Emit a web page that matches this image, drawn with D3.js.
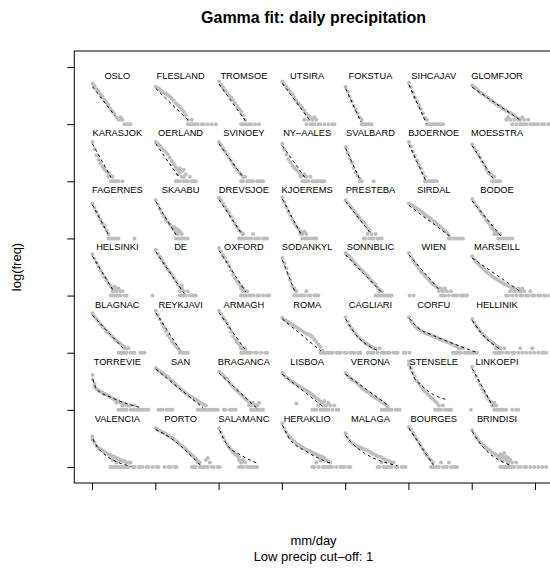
<!DOCTYPE html>
<html>
<head>
<meta charset="utf-8">
<script src="https://cdn.jsdelivr.net/npm/d3@7"></script>
<style>
  body { margin: 0; background: #fff; }
  text { font-family: "Liberation Sans", Arial, Helvetica, sans-serif; }
</style>
</head>
<body>
<svg id="chart" width="550" height="571"></svg>
<script>
// Stations, laid out row by row in a 7 x 7 grid of small panels
const stations = [
  "OSLO","FLESLAND","TROMSOE","UTSIRA","FOKSTUA","SIHCAJAV","GLOMFJOR",
  "KARASJOK","OERLAND","SVINOEY","NY\u2013AALES","SVALBARD","BJOERNOE","MOESSTRA",
  "FAGERNES","SKAABU","DREVSJOE","KJOEREMS","PRESTEBA","SIRDAL","BODOE",
  "HELSINKI","DE","OXFORD","SODANKYL","SONNBLIC","WIEN","MARSEILL",
  "BLAGNAC","REYKJAVI","ARMAGH","ROMA","CAGLIARI","CORFU","HELLINIK",
  "TORREVIE","SAN","BRAGANCA","LISBOA","VERONA","STENSELE","LINKOEPI",
  "VALENCIA","PORTO","SALAMANC","HERAKLIO","MALAGA","BOURGES","BRINDISI"
];

// Histogram bins (mm/day): bin i is centred on binStart + binWidth * i
const binStart = 1;
const binWidth = 4;

// log(freq) per bin for each station; an entry may hold several values, null = empty bin
const logFreq = [
  [6.4,6.0,5.5,5.2,4.7,4.3,3.8,3.4,3.0,2.4,2.0,1.6,1.1,0.7,[1.1,0.7],0.7,0,0,0,0],
  [5.9,5.7,5.5,5.2,5.0,4.8,4.6,4.3,4.0,3.7,3.3,3.0,2.7,2.3,1.9,1.4,[0.7,0],0,[0.7,0],0,0,0,null,0,0,null,0,null,0,null,0],
  [6.7,6.2,5.8,5.3,4.9,4.5,4.2,3.8,3.3,2.8,2.4,[2.0,0],[1.4,0],[0.7,0],0,0,0,null,0,null,0],
  [6.7,6.3,5.9,5.5,5.1,4.7,4.2,3.7,3.3,2.9,2.6,[2.1,0.7],[1.6,0],[1.3,0.7],[1.1,0],[0.7,0],[1.1,0],0.7,0,0,null,0,null,0,null,0,0],
  [5.9,5.1,4.3,3.6,2.9,2.3,1.7,1.1,[0.7,0],0,0,0,0,0],
  [6.5,5.8,5.0,4.2,3.6,3.0,2.4,1.7,1.0,[0.7,0],0,0,0,0,0,0,0,0],
  [6.1,5.8,5.6,5.3,5.0,4.8,4.6,4.3,4.1,3.8,3.6,3.4,3.1,2.9,2.8,2.5,2.3,[2.1,0.7],[1.9,1.1],[1.8,0.7],[1.6,0],[1.4,0.7],[1.1,0],[0.9,0.7],[0.7,0],[1.1,0],[0.7,0],0,0.7,0,0,0,0,0,null,0,0,null,0,0],

  [6.2,5.1,4.1,3.4,2.8,2.3,1.9,1.6,[1.3,0.7],[0.9,0],[0.7,0],0,0,0,null,0],
  [6.2,5.9,5.6,5.2,4.9,4.6,4.2,3.7,3.2,2.7,[2.2,0],[1.8,1.1,0],[2.0,1.4,0],[1.6,0.7],[1.8,0.7,0],[1.1,0],0,0.7,0,0,0],
  [6.2,5.7,5.2,4.7,4.2,3.7,3.2,2.7,2.2,1.8,1.4,[1.1,0],[0.7,0],0.7,0,0,0,0,null,0,0,0,0],
  [5.9,5.0,4.2,3.5,3.0,2.5,2.1,1.8,1.5,[1.1,0.7],[0.9,0],[1.1,0],[0.7,0],0,0.7,0,0,0,0,0,0,0],
  [5.4,4.5,3.6,2.9,2.1,1.4,0.9,[0.4,0],0,null,null,null,null,null,0],
  [6.2,5.5,4.7,4.0,3.3,2.6,2.0,1.3,[0.7,0],0,0,0,0,0,0],
  [5.8,5.3,4.8,4.2,3.7,3.1,2.5,1.9,1.4,1.1,[0.9,0],[0.7,0],0,0,0],

  [5.5,4.8,4.2,3.6,3.0,2.4,1.9,1.3,[0.7,0],0,0,0,0,0,null,null,null,null,null,null,null,0],
  [6.0,5.3,4.6,4.0,3.5,3.0,2.6,2.2,1.8,[1.4,1.8],[1.1,1.6,0],[1.4,0.7,0],[1.1,0],[0.7,0],0,0,0],
  [6.4,6.0,5.5,5.0,4.5,4.0,3.4,2.8,2.3,1.8,[1.3,0],[1.0,0],[0.7,0],0,0,0,0,0.7,0,0,0,null,0,0,0],
  [6.5,5.7,4.9,4.2,3.6,3.0,2.4,1.9,1.5,[1.1,0.7],[0.9,0.7,0],[1.1,0],[0.7,0],0,0,0,0,0],
  [6.0,5.6,5.2,4.8,4.4,4.0,3.6,3.2,2.8,[2.5,0],[2.1,0],[1.6,0.7],[1.2,0],[0.7,0],0,0.7,0,0,0],
  [5.5,5.3,5.1,4.9,4.7,4.5,4.3,4.0,3.8,3.5,3.3,3.1,2.8,2.6,2.3,2.0,1.8,1.5,1.2,0.9,[0.5,0],0,0,0,0,0,0,0],
  [6.2,5.7,5.2,4.8,4.3,3.8,3.4,2.9,2.5,2.0,1.6,[1.3,0.7],[1.1,0.7],[0.7,0],[0.7,0],0,0,0,0,0,0],

  [6.5,5.8,5.2,4.6,4.0,3.4,2.9,2.4,1.9,[1.5,0],[1.1,0.7,0],[1.4,0.7,0],[0.7,1.1,0],[1.1,0],[0.7,0],0.7,0,0,null,null,null,null,null,null,null,null,null,null,null,null,0],
  [7.2,6.6,6.1,5.6,5.1,4.6,4.1,3.7,3.3,2.8,2.3,1.8,[1.4,0.7,0],[1.1,1.6,0],[0.7,0],0,0.7,0,0,0,0],
  [7.5,6.9,6.4,5.9,5.3,4.7,4.0,3.3,2.7,2.2,1.8,[1.5,1.1,0],[1.1,0.7,0],[0.7,0],[0.7,0],0,0,0,null,0,0,null,0,null,0,0],
  [5.9,5.1,4.3,3.3,2.4,1.5,[1.1,0],[0.7,0],0,0,0,0,0.7,0,0,null,0,0,0],
  [6.7,6.4,6.1,5.7,5.4,5.0,4.6,4.3,4.0,3.7,3.4,3.1,2.7,2.3,2.0,[1.7,0],[1.2,0],[0.9,0.7,0],[0.7,0],0,0,0,0,0,null,null,null,null,null,null,null,null,0,null,0],
  [6.7,6.1,5.6,5.1,4.7,4.2,3.8,3.5,3.1,2.8,2.5,2.1,1.8,1.6,1.3,[1.1,0.7],[1.1,0],[0.7,0],[1.1,0],0.7,0,0.7,0,0,0,null,0,0,0,0],
  [6.2,5.7,5.3,5.0,4.7,4.4,4.1,3.8,3.5,3.3,3.0,2.8,2.6,2.4,2.2,2.0,1.8,[1.7,0],[1.5,0],[1.4,0.7],[1.1,0],[1.1,0.7],[0.9,0],[0.7,1.1],[0.7,0],[1.1,0],0.7,0,0,0.7,0,0,null,0,0,null,0,0,null,0],

  [6.2,5.7,5.3,4.9,4.5,4.1,3.8,3.4,3.1,2.8,2.5,2.2,1.9,[1.6,0],[1.4,0],[1.1,0],[0.9,0.7,0],[0.7,0],0.7,0,0,0,null,null,0,0,0],
  [6.6,5.9,5.3,4.6,4.0,3.4,2.8,2.3,1.8,1.4,1.0,0.7,[0.3,0],0,0,0,0],
  [6.6,6.1,5.6,5.1,4.6,4.0,3.3,2.6,2.1,1.7,1.3,[1.0,0.7,0],[0.7,0],[0.3,0.7,0],0,0,0,null,0,0,null,0,null,0,0],
  [5.5,5.2,5.0,4.8,4.6,4.4,4.2,4.0,3.8,3.6,3.4,3.2,3.0,2.9,2.7,2.5,2.1,1.7,1.3,[0.9,0],[0.3,0],0,0,0,0,0,null,0,0,0,null,0,0,null,0,0,0,null,0,0],
  [5.6,4.9,4.3,3.8,3.4,3.0,2.6,2.3,2.0,1.8,1.5,[1.3,0],[1.1,0],[0.9,0],[0.7,0],0.7,0,0.7,0,0,0,0,0,null,0,0,0,null,null,0,0,null,0],
  [5.6,5.0,4.6,4.2,3.9,3.7,3.5,3.3,3.1,3.0,2.9,2.8,2.6,2.5,2.4,2.2,2.1,2.0,1.9,1.7,1.6,1.4,[1.3,0],[1.1,0],[1.0,0],[0.7,0],[0.7,0],0.7,0,0,0,0,0,0,0],
  [5.3,4.7,4.2,3.8,3.4,3.0,2.7,2.4,2.1,1.9,1.6,[1.4,0],[1.1,0.7,0],[0.9,0],[0.7,0],0,0.7,0,0,null,0,0,null,0,0.7,0,null,0,null,0,0.7,0,null,0,null,0,0,0],

  [[5.5,4.8],[4.1,3.6],3.3,3.1,2.9,2.7,2.5,2.4,2.2,2.0,1.8,1.6,[1.5,1.1],[1.3,0],[1.1,0],[1.1,0.7,0],[0.9,0],[0.7,0],0.7,[0.7,0],0,[0.7,0],0,0,0,0,0,0,0,null,null,null,null,0,0,0,null,0,0,0,0],
  [6.6,6.3,6.1,5.9,5.6,5.4,5.2,4.9,4.6,4.3,4.0,3.7,3.4,3.1,2.9,2.6,2.4,2.2,2.0,1.8,1.6,[1.4,0],[1.2,0],[1.0,0],[0.8,0],[0.7,0],0,0,0,0,0,0,null,null,0,0,null,0,0,0,0],
  [6.0,5.7,5.4,5.1,4.8,4.4,4.0,3.6,3.3,3.0,2.7,2.4,2.1,1.8,1.5,[1.2,0.7],[1.0,0.7,0],[1.1,0],[0.7,0],[0.7,0],[1.1,0],0,0],
  [5.8,5.4,5.1,4.9,4.6,4.4,4.2,[4.0,1.0],3.8,3.6,3.4,3.2,3.0,2.8,2.6,[2.4,0],[2.1,0],[1.8,0],[1.6,0.7],[1.3,1.1,0],[1.1,0.7,0],[1.4,0.7,0],[0.7,0],[1.1,0],0.7,0,0.7,0,0],
  [5.8,5.4,5.1,4.8,4.6,4.4,4.1,3.8,3.5,3.2,3.0,2.8,2.6,2.3,2.1,1.9,1.7,1.5,[1.3,0],[1.0,0],[0.8,0],[0.5,0],0,0,null,0,0,0],
  [[7.6,7.1],6.5,5.8,5.2,4.6,4.1,3.7,3.3,2.9,2.6,2.3,2.0,1.7,[1.4,0],[1.1,0],[0.7,0],0,0.7,0,0,0,0,null,null,null,null,null,null,null,null,null,0],
  [6.8,6.0,5.3,4.6,3.9,3.3,2.7,2.2,1.7,1.3,[1.1,0.7],[0.7,1.1,0],[0.7,0],0,0,0,0,0,null,null,0,null,0,0],

  [[4.8,4.3],3.9,3.3,3.0,2.8,2.6,2.4,2.2,2.0,[1.9,0],[1.7,1.1,0],[1.6,0],[1.4,0.7,0],[1.3,0],[1.1,0],[1.0,0],[0.9,0],[0.7,0],[0.7,0],0.7,0,0,null,0,0,0,null,0,0,null,0,null,0,0,null,null,0,null,0,0,null,0,0],
  [6.1,5.9,5.7,5.5,5.4,5.2,5.0,4.8,4.6,4.4,4.1,3.9,3.6,3.4,3.1,2.8,2.5,2.2,[1.9,0],[1.6,0],[1.3,0],[1.0,0.7],[0.7,0],0,0,[1.1,0],[1.4,0],0.7,0,0,null,0,0],
  [6.1,5.4,4.7,4.1,3.6,3.1,2.7,2.3,2.0,1.8,[1.5,1.1,0],[0.9,0.7,0],[1.1,0],0.7,0,0,0,0,0,0],
  [6.9,6.1,5.5,5.0,4.6,4.3,4.0,3.7,3.5,3.3,3.1,2.9,2.7,2.6,2.5,[2.3,0],[2.1,0],[2.0,0.7],[1.8,0],[1.7,1.1],[1.6,0],[1.4,0],[1.1,0],[0.9,0],[0.7,0],0,null,0,null,0,0,0,null,0,0],
  [5.3,4.6,4.1,3.8,3.6,3.4,3.2,3.1,3.0,2.8,2.7,2.6,2.4,2.2,2.0,1.9,[1.7,0],[1.6,0],[1.5,0.7],[1.3,0],[1.1,0],[1.0,0],[0.9,0],[0.7,0],0.7,0,0,null,0,0,0],
  [6.3,5.9,5.4,4.9,4.4,3.9,3.3,2.8,2.3,1.9,1.4,[1.1,0],[0.7,0],0,0,0,0.7,0,0,0,0.7,0,0,0,0],
  [5.8,5.2,4.7,4.3,3.9,3.6,3.3,3.0,2.8,2.6,2.3,2.1,1.9,1.6,[1.4,2.0,0],[1.1,1.8,0],[1.4,2.2,0],[1.1,1.6,0],[0.7,1.4,0],[1.1,0],[0.7,0],0,0.7,0,0,null,0,0,null,0,null,0,null,0,null,0,null,0]
];

// Fitted gamma curve for each station, as [mm/day, log(freq)] pairs
const gammaFit = [
  [[1,5.9],[46,1.3]],
  [[1,5.6],[66,0.6]],
  [[1,6.3],[54,0.5]],
  [[1,6.4],[56,0.6]],
  [[1,5.6],[32,0.3]],
  [[1,6.2],[36,0.1]],
  [[1,5.8],[96,0.7]],

  [[1,5.9],[38,0.6]],
  [[1,5.9],[48,0.6]],
  [[1,5.9],[50,0.5]],
  [[1,5.6],[46,0.6]],
  [[1,5.2],[28,0.5]],
  [[1,5.8],[34,0.2]],
  [[1,5.6],[44,0.3]],

  [[1,5.3],[34,0.4]],
  [[1,5.8],[42,0.5]],
  [[1,6.1],[48,0.5]],
  [[1,6.2],[40,0.4]],
  [[1,5.8],[52,0.7]],
  [[1,5.2],[82,0.4]],
  [[1,5.9],[58,0.4]],

  [[1,6.2],[44,0.6]],
  [[1,6.9],[58,0.3]],
  [[1,7.1],[54,0.6]],
  [[1,5.6],[26,0.6]],
  [[1,6.4],[72,0.6]],
  [[1,6.4],[64,0.7]],
  [[1,5.9],[100,0.5]],

  [[1,5.9],[66,0.4]],
  [[1,6.3],[48,0.6]],
  [[1,6.3],[52,0.6]],
  [[1,5.3],[78,0.3]],
  [[1,5.3],[18,3.2],[66,0.3]],
  [[2,5.4],[18,4.0],[50,2.7],[84,1.6],[138,0]],
  [[1,5.1],[18,3.2],[60,0.4]],

  [[2,4.8],[10,3.2],[40,1.9],[100,0.3]],
  [[1,6.4],[96,0.3]],
  [[1,5.8],[76,0.3]],
  [[1,5.6],[84,0.4]],
  [[1,5.6],[88,0.6]],
  [[3,6.9],[12,5.0],[24,4.0],[50,2.4],[77,1.6]],
  [[1,6.5],[42,0.6]],

  [[2,4.4],[14,2.8],[78,0.1]],
  [[1,5.9],[30,4.6],[90,0.3]],
  [[2,5.8],[17,3.5],[44,1.9],[77,0.6]],
  [[1,6.6],[14,4.6],[50,2.4],[100,0.5]],
  [[1,5.0],[12,3.9],[104,0.2]],
  [[1,6.1],[50,0.3]],
  [[1,5.6],[16,3.8],[76,0.3]]
];

// Outer axes: one unit per panel, ticks without labels
const xTicks = [0,1,2,3,4,5,6,7];
const yTicks = [0,1,2,3,4,5,6,7];

const titleText = "Gamma fit: daily precipitation";
const xLabel = "mm/day";
const subLabel = "Low precip cut\u2013off: 1";
const yLabel = "log(freq)";

const nCols = 7;
const mmPerPanel = 126.57;   // mm/day spanned by one panel width
const logPerPanel = 9;       // log(freq) spanned by one panel height

const svg = d3.select("#chart");
svg.append("rect").attr("width", 550).attr("height", 571).attr("fill", "#fff");

const X = d3.scaleLinear().domain([-0.28, 7.28]).range([74.28, 552.72]);
const Y = d3.scaleLinear().domain([-0.28, 7.28]).range([483, 51]);

// points and fitted curves
const plot = svg.append("g");

stations.forEach((name, k) => {
  const row = Math.floor(k / nCols);
  const col = k % nCols;
  const base = nCols - 1 - row;
  const px = mm => X(col + mm / mmPerPanel);
  const py = v => Y(base + v / logPerPanel);

  const pts = [];
  logFreq[k].forEach((v, i) => {
    if (v === null) return;
    const mm = binStart + binWidth * i;
    (Array.isArray(v) ? v : [v]).forEach(val => pts.push([mm, val]));
  });

  plot.append("g").selectAll("circle").data(pts).join("circle")
    .attr("cx", d => px(d[0]))
    .attr("cy", d => py(d[1]))
    .attr("r", 2)
    .attr("fill", "#bebebe");

  const line = d3.line().x(d => px(d[0])).y(d => py(d[1])).curve(d3.curveMonotoneX);
  plot.append("path")
    .attr("d", line(gammaFit[k]))
    .attr("fill", "none")
    .attr("stroke", "#000")
    .attr("stroke-width", 1)
    .attr("stroke-dasharray", "3,3");

  plot.append("text")
    .attr("x", X(col + 0.4))
    .attr("y", Y(base + 1 - 0.21))
    .attr("text-anchor", "middle")
    .attr("font-size", "9.3px")
    .attr("fill", "#000")
    .text(name);
});

// frame
svg.append("rect")
  .attr("x", X(-0.28)).attr("y", Y(7.28))
  .attr("width", X(7.28) - X(-0.28)).attr("height", Y(-0.28) - Y(7.28))
  .attr("fill", "none").attr("stroke", "#000").attr("stroke-width", 1);

const yAxis = svg.append("g")
  .attr("transform", `translate(${X(-0.28)},0)`)
  .call(d3.axisLeft(Y).tickValues(yTicks).tickSize(7).tickFormat(""));
yAxis.select(".domain").remove();

const xAxis = svg.append("g")
  .attr("transform", `translate(0,${Y(-0.28)})`)
  .call(d3.axisBottom(X).tickValues(xTicks).tickSize(7).tickFormat(""));
xAxis.select(".domain").remove();

// titles
const cx = (X(-0.28) + X(7.28)) / 2;
svg.append("text").attr("x", cx).attr("y", 23)
  .attr("text-anchor", "middle").attr("font-size", "16px").attr("font-weight", "bold")
  .text(titleText);
svg.append("text").attr("x", cx).attr("y", 545)
  .attr("text-anchor", "middle").attr("font-size", "13px").text(xLabel);
svg.append("text").attr("x", cx).attr("y", 561)
  .attr("text-anchor", "middle").attr("font-size", "13px").text(subLabel);
svg.append("text")
  .attr("transform", `translate(21,${(Y(-0.28) + Y(7.28)) / 2}) rotate(-90)`)
  .attr("text-anchor", "middle").attr("font-size", "13px").text(yLabel);
</script>
</body>
</html>
